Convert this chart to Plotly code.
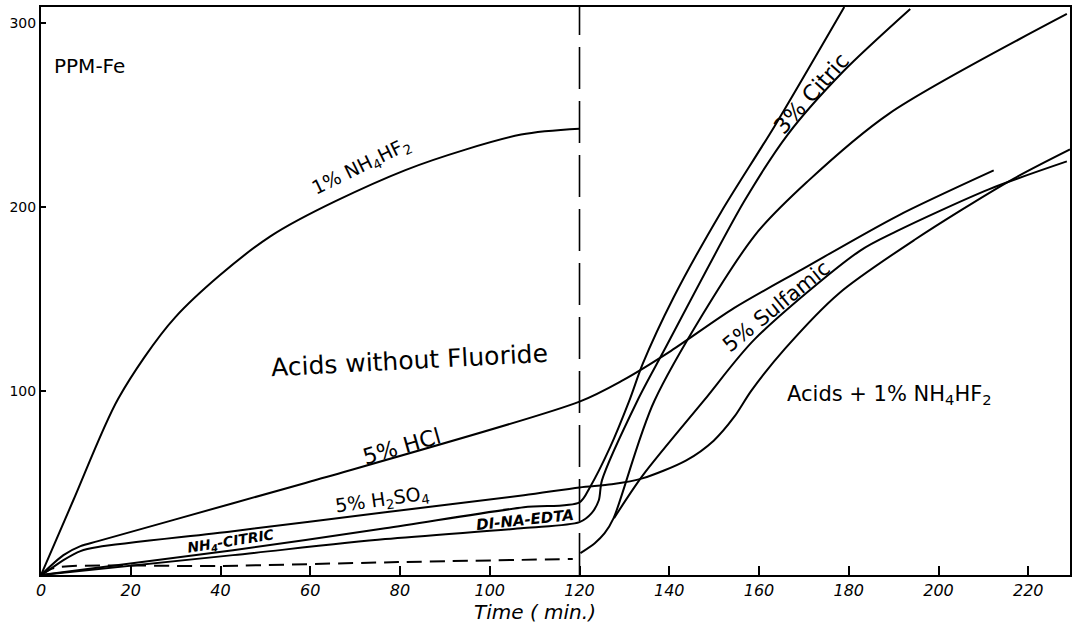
import plotly.graph_objects as go

# ---------------- data ----------------
DIVIDER_TIME = 120  # end of "acids without fluoride" period

nh4hf2_time = [0, 7.2, 17.2, 29.9, 51.1, 81.2, 107.0, 120.0]
nh4hf2_ppm = [0, 40.6, 95.8, 140.0, 184.0, 220.0, 239.3, 242.5]

hcl_time = [0, 5.0, 8.8, 12.7, 42.8, 60.2, 120.0, 129.5, 140.4, 154.5, 169.7, 190.7, 212.3]
hcl_ppm = [0, 10.8, 15.7, 18.4, 39.0, 50.9, 94.2, 105.6, 121.8, 145.1, 166.2, 194.9, 219.8]

h2so4_time = [0, 2.7, 5.0, 8.8, 12.7, 42.8, 76.7, 107.6, 120.0, 127.2, 134.0, 143.8, 149.9, 154.5,
              158.3, 165.8, 177.8, 194.6, 215.7, 229.3]
h2so4_ppm = [0, 4.3, 8.1, 13.0, 15.2, 23.8, 34.1, 43.3, 47.6, 49.3, 52.5, 62.3, 73.0, 86.0,
             100.2, 123.0, 153.0, 182.0, 213.9, 231.2]

edta_time = [0, 42.8, 76.7, 107.6, 120.0, 122.3, 126.8, 131.1, 134.1, 140.9, 151.5, 163.5, 179.0]
edta_ppm = [0, 13.5, 25.4, 36.8, 39.5, 47.6, 69.3, 94.7, 114.8, 150.5, 197.0, 244.0, 308.6]

nh4citric_time = [0, 42.8, 76.7, 107.6, 120.0, 122.7, 124.3, 125.0, 132.9, 138.8, 156.7, 166.4, 178.7, 193.7]
nh4citric_ppm = [0, 10.8, 19.5, 25.5, 28.7, 33.6, 40.6, 51.4, 94.7, 121.8, 203.0, 239.3, 273.4, 307.5]

blank_time = [0, 2.9, 39.8, 79.6, 118.5]
blank_ppm = [0, 3.8, 4.9, 7.0, 8.7]

citric_time = [120.2, 123.4, 125.6, 127.6, 136.7, 158.9, 170.9, 189.0, 228.6]
citric_ppm = [11.9, 17.3, 22.7, 30.9, 94.7, 184.0, 214.0, 250.7, 304.8]

sulfamic_time = [127.7, 134.1, 147.7, 159.0, 182.4, 190.7, 211.2, 228.6]
sulfamic_ppm = [30.9, 54.1, 94.7, 128.0, 176.0, 186.8, 209.5, 224.7]

x_ticks = [0, 20, 40, 60, 80, 100, 120, 140, 160, 180, 200, 220]
y_ticks = [100, 200, 300]

# ---------------- figure ----------------
FONT = "DejaVu Sans"
INK = "black"

fig = go.Figure()


def add_curve(x, y, name, dash="solid"):
    fig.add_trace(go.Scatter(
        x=x, y=y, name=name, mode="lines",
        line=dict(color=INK, width=2, dash=dash, shape="spline", smoothing=0.8),
        hoverinfo="x+y+name", showlegend=False))


add_curve(nh4hf2_time, nh4hf2_ppm, "1% NH4HF2")
add_curve(hcl_time, hcl_ppm, "5% HCl")
add_curve(h2so4_time, h2so4_ppm, "5% H2SO4")
add_curve(edta_time, edta_ppm, "Di-Na-EDTA")
add_curve(nh4citric_time, nh4citric_ppm, "NH4-Citric")
add_curve(blank_time, blank_ppm, "Blank", dash="15px,8px")
add_curve(citric_time, citric_ppm, "3% Citric")
add_curve(sulfamic_time, sulfamic_ppm, "5% Sulfamic")

fig.add_shape(type="line", xref="x", yref="paper", x0=DIVIDER_TIME, x1=DIVIDER_TIME, y0=0, y1=1,
              line=dict(color=INK, width=1.6, dash="42px,12px"))


def label(text, x, y, size, angle=0, xref="x", yref="y", **kw):
    fig.add_annotation(text=text, x=x, y=y, xref=xref, yref=yref, showarrow=False,
                       xanchor="center", yanchor="middle",
                       textangle=angle, font=dict(family=FONT, size=size, color=INK, **kw))


fig.add_annotation(text="PPM-Fe", x=2.4, y=276.7, xref="x", yref="y", xanchor="left",
                   showarrow=False, font=dict(family=FONT, size=20, color=INK))
label("1% NH<sub>4</sub>HF<sub>2</sub>", 71.5, 222, 19, -26)
label("Acids without Fluoride", 82.2, 116.4, 25, -3)
label("5% HCl", 80.4, 69.8, 22, -16)
label("5% H<sub>2</sub>SO<sub>4</sub>", 76.0, 40.6, 19, -8)
label("NH<sub>4</sub>-CITRIC", 42.3, 17.9, 14, -9, style="italic", weight="bold")
label("DI-NA-EDTA", 107.8, 29.8, 15, -6, style="italic", weight="bold")
label("3% Citric", 171.7, 261.5, 22, -48)
label("5% Sulfamic", 164.0, 146.0, 21, -39)
label("Acids + 1% NH<sub>4</sub>HF<sub>2</sub>", 189.1, 98.0, 21)
label("Time ( min.)", 0.48, -0.066, 20, 0, xref="paper", yref="paper", style="italic")

fig.update_xaxes(range=[0, 229.3], tickvals=x_ticks, ticktext=[str(v) for v in x_ticks],
                 ticks="inside", ticklen=9, tickwidth=1.5, tickcolor=INK,
                 showline=True, linewidth=2, linecolor=INK, mirror=True,
                 showgrid=False, zeroline=False,
                 tickfont=dict(family=FONT, size=16, color=INK, style="italic"))
fig.update_yaxes(range=[0, 308.6], tickvals=y_ticks, ticktext=[str(v) for v in y_ticks],
                 ticks="inside", ticklen=5, tickwidth=1.5, tickcolor=INK,
                 showline=True, linewidth=2, linecolor=INK, mirror=True,
                 showgrid=False, zeroline=False,
                 tickfont=dict(family=FONT, size=14, color=INK))

fig.update_layout(width=1080, height=626, margin=dict(l=41, r=10, t=5, b=51),
                  plot_bgcolor="white", paper_bgcolor="white", showlegend=False)

fig.write_html("out.html", config={"displayModeBar": False},
               post_script="document.body.style.margin='0';document.body.style.overflow='hidden';")
